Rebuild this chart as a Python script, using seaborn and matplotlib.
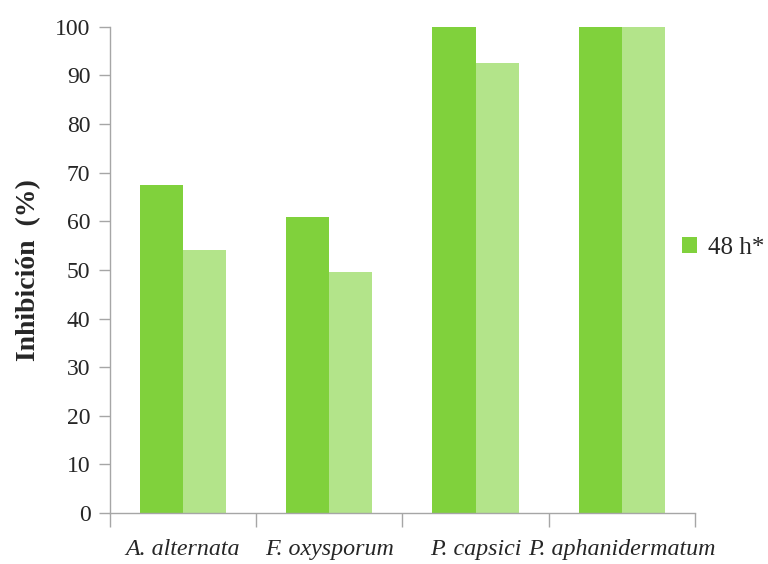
import pandas as pd
import matplotlib
matplotlib.use("Agg")
import matplotlib.pyplot as plt
import seaborn as sns

# data
species = ["A. alternata", "F. oxysporum", "P. capsici", "P. aphanidermatum"]
inhib_48h = [67.4, 60.8, 100.0, 100.0]
inhib_72h = [54.0, 49.5, 92.6, 100.0]
series = ["48 h*", "72 h"]

df = pd.DataFrame({
    "Especie": species * 2,
    "Inhibicion": inhib_48h + inhib_72h,
    "Tiempo": [series[0]] * 4 + [series[1]] * 4,
})

sns.set_style("white")
plt.rcParams["font.family"] = ["Liberation Serif", "DejaVu Serif"]

fig = plt.figure(figsize=(7.68, 5.64), dpi=100)
ax = fig.add_axes([0.143, 0.0904, 0.762, 0.862])

sns.barplot(data=df, x="Especie", y="Inhibicion", hue="Tiempo",
            palette=["#80d13c", "#b3e48a"], width=0.59, saturation=1,
            linewidth=0, ax=ax)

ax.set_xlim(-0.5, 3.5)
ax.set_ylim(0, 100)
ax.set_yticks(range(0, 101, 10))
ax.set_ylabel("Inhibición  (%)", fontsize=20, fontweight="bold", labelpad=10)
ax.set_xlabel("")

# category boundaries as tick marks, labels centred without ticks
ax.set_xticks(range(4))
ax.set_xticklabels(species, fontsize=17.3, fontstyle="italic")
ax.set_xticks([-0.5, 0.5, 1.5, 2.5, 3.5], minor=True)
ax.tick_params(axis="x", which="major", length=0, pad=19)
ax.tick_params(axis="x", which="minor", length=10, width=1, color="#a6a6a6", direction="out")
ax.tick_params(axis="y", length=8, width=1, color="#a6a6a6", direction="out", labelsize=17, pad=6)
ax.tick_params(bottom=True, left=True, which="both")

for side in ["top", "right"]:
    ax.spines[side].set_visible(False)
for side in ["left", "bottom"]:
    ax.spines[side].set_color("#a6a6a6")
    ax.spines[side].set_linewidth(1)

# legend shows only the first series
handles, labels = ax.get_legend_handles_labels()
ax.legend(handles[:1], labels[:1], loc="center left", bbox_to_anchor=(0.978, 0.545),
          frameon=False, fontsize=18, handlelength=0.6, handleheight=0.6,
          handletextpad=0.45, borderaxespad=0, borderpad=0)

fig.savefig("out.png", dpi=100)
